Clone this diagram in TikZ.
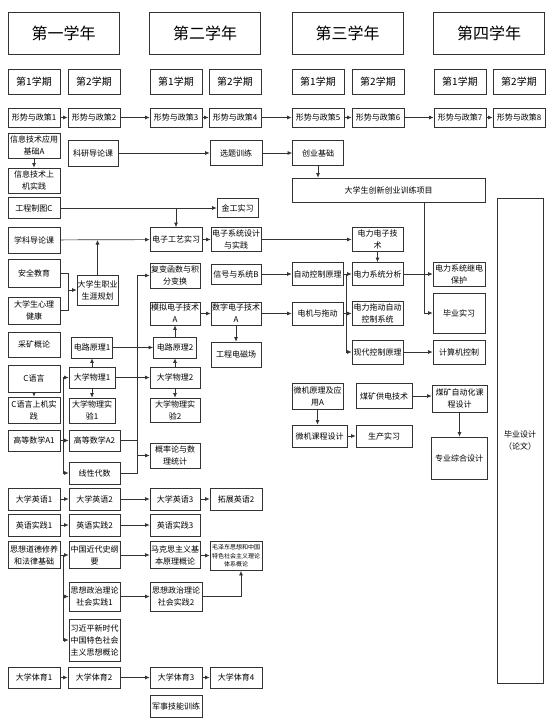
\documentclass[tikz,border=0pt]{standalone}
\usepackage{fontspec}
\usetikzlibrary{arrows.meta, positioning}
\newfontfamily\cjk{Noto Sans CJK SC}
\definecolor{LineGray}{rgb}{0.2, 0.2, 0.2}

\begin{document}
\begin{tikzpicture}[
    x=1pt, y=-1pt,
    font=\cjk\fontsize{8}{12}\selectfont,
    course/.style={draw=LineGray, line width=0.7pt, align=center,
        inner sep=0pt, text=black},
    sz/.style 2 args={minimum width=#1, minimum height=#2},
    head/.style={course, sz={111pt}{42pt}, font=\cjk\fontsize{16}{18}\selectfont},
    term/.style={course, sz={52pt}{25pt}, font=\cjk\fontsize{10}{12}\selectfont},
    link/.style={-{Latex[length=4.5pt, width=4pt]}, line width=0.7pt, LineGray},
    wire/.style={line width=0.7pt, LineGray},
]
\useasboundingbox (0,0) rectangle (553,726);

% 学年
\node[head] (year1) at (63.5,33) {第一学年};
\node[head] (year2) at (205,33) {第二学年};
\node[head] (year3) at (347.5,33) {第三学年};
\node[head] (year4) at (489,33) {第四学年};

% 学期
\node[term] (term1) at (34,81.5) {第1学期};
\node[term] (term2) at (94,81.5) {第2学期};
\node[term] (term3) at (176,81.5) {第1学期};
\node[term] (term4) at (235,81.5) {第2学期};
\node[term] (term5) at (318,81.5) {第1学期};
\node[term] (term6) at (378,81.5) {第2学期};
\node[term] (term7) at (460,81.5) {第1学期};
\node[term] (term8) at (519,81.5) {第2学期};

% 形势与政策
\node[course, sz={52pt}{19pt}] (policy1) at (34,117.5) {形势与政策1};
\node[course, sz={52pt}{19pt}] (policy2) at (94,117.5) {形势与政策2};
\node[course, sz={52pt}{19pt}] (policy3) at (176,117.5) {形势与政策3};
\node[course, sz={52pt}{19pt}] (policy4) at (235,117.5) {形势与政策4};
\node[course, sz={52pt}{19pt}] (policy5) at (318,117.5) {形势与政策5};
\node[course, sz={52pt}{19pt}] (policy6) at (378,117.5) {形势与政策6};
\node[course, sz={52pt}{19pt}] (policy7) at (460,117.5) {形势与政策7};
\node[course, sz={52pt}{19pt}] (policy8) at (519,117.5) {形势与政策8};

\draw[link] (policy1) -- (policy2);
\draw[link] (policy2) -- (policy3);
\draw[link] (policy3) -- (policy4);
\draw[link] (policy4) -- (policy5);
\draw[link] (policy5) -- (policy6);
\draw[link] (policy6) -- (policy7);
\draw[link] (policy7) -- (policy8);

% 课程
\node[course, sz={52pt}{25pt}] (infobase) at (34,145.5) {信息技术应用\\基础A};
\node[course, sz={52pt}{25pt}] (infolab) at (34,180.5) {信息技术上\\机实践};
\node[course, sz={50pt}{26pt}] (research) at (93,153) {科研导论课};
\node[course, sz={52pt}{25pt}] (topic) at (236,153) {选题训练};
\node[course, sz={51pt}{25pt}] (startup) at (318,153) {创业基础};
\node[course, sz={193pt}{24pt}] (innov) at (388.5,190) {大学生创新创业训练项目};
\node[course, sz={52pt}{21pt}] (drawing) at (34,208) {工程制图C};
\node[course, sz={41pt}{19pt}] (metal) at (237.5,208) {金工实习};
\node[course, sz={52pt}{26pt}] (intro) at (34,240) {学科导论课};
\node[course, sz={52pt}{24pt}] (craft) at (176,239.5) {电子工艺实习};
\node[course, sz={50pt}{24pt}] (esys) at (236,239.5) {电子系统设计\\与实践};
\node[course, sz={51pt}{24pt}] (powerel) at (377.5,239.5) {电力电子技\\术};
\node[course, sz={46pt}{485pt}] (thesis) at (520,440.5) {毕业设计\\（论文）};

\node[course, sz={52pt}{28pt}] (safety) at (34,273) {安全教育};
\node[course, sz={52pt}{27pt}] (psych) at (34,310.5) {大学生心理\\健康};
\node[course, sz={41pt}{30pt}] (career) at (97.5,290) {大学生职业\\生涯规划};
\node[course, sz={50pt}{25pt}] (complex) at (175,275.5) {复变函数与积\\分变换};
\node[course, sz={50pt}{20pt}] (signal) at (236,274) {信号与系统B};
\node[course, sz={51pt}{23pt}] (autoctl) at (317.5,274) {自动控制原理};
\node[course, sz={51pt}{23pt}] (psa) at (377.5,274) {电力系统分析};
\node[course, sz={52pt}{24pt}] (relay) at (459,274) {电力系统继电\\保护};
\node[course, sz={50pt}{23pt}] (analog) at (175,313.5) {模拟电子技术\\A};
\node[course, sz={50pt}{23pt}] (digital) at (236,313.5) {数字电子技术\\A};
\node[course, sz={51pt}{23pt}] (motor) at (317.5,313.5) {电机与拖动};
\node[course, sz={51pt}{24pt}] (drive) at (377.5,313.5) {电力拖动自动\\控制系统};
\node[course, sz={52pt}{40pt}] (intern) at (459,313) {毕业实习};

\node[course, sz={52pt}{25pt}] (mining) at (34,344.5) {采矿概论};
\node[course, sz={41pt}{21pt}] (circ1) at (92,347.5) {电路原理1};
\node[course, sz={43pt}{21pt}] (circ2) at (175,347.5) {电路原理2};
\node[course, sz={50pt}{25pt}] (emfield) at (236,354.5) {工程电磁场};
\node[course, sz={51pt}{24pt}] (modern) at (377.5,352) {现代控制原理};
\node[course, sz={52pt}{24pt}] (compctl) at (459,352) {计算机控制};
\node[course, sz={52pt}{27pt}] (clang) at (34,378.5) {C语言};
\node[course, sz={46pt}{21pt}] (phys1) at (92,377.5) {大学物理1};
\node[course, sz={50pt}{21pt}] (phys2) at (175,377.5) {大学物理2};
\node[course, sz={51pt}{26pt}] (micro) at (317.5,396) {微机原理及应\\用A};
\node[course, sz={56pt}{25pt}] (coalsup) at (384,396) {煤矿供电技术};
\node[course, sz={55pt}{27pt}] (coalauto) at (459.5,398.5) {煤矿自动化课\\程设计};
\node[course, sz={52pt}{26pt}] (clab) at (34,410) {C语言上机实\\践};
\node[course, sz={46pt}{25pt}] (physlab1) at (92,410.5) {大学物理实\\验1};
\node[course, sz={50pt}{24pt}] (physlab2) at (175,410) {大学物理实\\验2};
\node[course, sz={55pt}{22pt}] (microdes) at (319.5,436) {微机课程设计};
\node[course, sz={56pt}{22pt}] (prod) at (384,436) {生产实习};
\node[course, sz={56pt}{42pt}] (synth) at (459,458) {专业综合设计};

\node[course, sz={52pt}{21pt}] (math1) at (34,440.5) {高等数学A1};
\node[course, sz={51pt}{21pt}] (math2) at (94.5,440.5) {高等数学A2};
\node[course, sz={51pt}{22pt}] (linalg) at (94.5,473) {线性代数};
\node[course, sz={50pt}{25pt}] (prob) at (175,455.5) {概率论与数\\理统计};

\node[course, sz={52pt}{22pt}] (eng1) at (34,499) {大学英语1};
\node[course, sz={51pt}{22pt}] (eng2) at (94.5,499) {大学英语2};
\node[course, sz={50pt}{22pt}] (eng3) at (175,499) {大学英语3};
\node[course, sz={52pt}{22pt}] (engx) at (236,499) {拓展英语2};
\node[course, sz={52pt}{22pt}] (prac1) at (34,525) {英语实践1};
\node[course, sz={51pt}{22pt}] (prac2) at (94.5,525) {英语实践2};
\node[course, sz={50pt}{22pt}] (prac3) at (175,525) {英语实践3};

\node[course, sz={52pt}{27pt}] (moral) at (34,555) {思想道德修养\\和法律基础};
\node[course, sz={51pt}{27pt}] (history) at (94.5,555) {中国近代史纲\\要};
\node[course, sz={50pt}{27pt}] (marx) at (175,555) {马克思主义基\\本原理概论};
\node[course, sz={52pt}{29pt}, font=\cjk\fontsize{6}{8.5}\selectfont] (mao) at (236,556)
    {毛泽东思想和中国\\特色社会主义理论\\体系概论};
\node[course, sz={51pt}{29pt}] (pol1) at (94.5,596.5) {思想政治理论\\社会实践1};
\node[course, sz={52pt}{29pt}] (pol2) at (176,596.5) {思想政治理论\\社会实践2};
\node[course, sz={51pt}{42pt}] (xi) at (94.5,640) {习近平新时代\\中国特色社会\\主义思想概论};

\node[course, sz={52pt}{21pt}] (pe1) at (34,677.5) {大学体育1};
\node[course, sz={52pt}{21pt}] (pe2) at (94,677.5) {大学体育2};
\node[course, sz={52pt}{21pt}] (pe3) at (176,677.5) {大学体育3};
\node[course, sz={52pt}{21pt}] (pe4) at (236,677.5) {大学体育4};
\node[course, sz={52pt}{22pt}] (military) at (176,706) {军事技能训练};

% 汇合点
\coordinate (join) at ([xshift=8pt]safety.east |- career.west);
\coordinate (ctlbus) at ([xshift=3pt]autoctl.east);
\coordinate (gradbus) at ([xshift=-8pt]relay.west |- innov.south);
\coordinate (mathbus) at ([xshift=17pt]math2.east);
\coordinate (calcbus) at ([xshift=3pt]math1.east);
\coordinate (polbus) at ([xshift=3pt]moral.east);

% 先修关系
\draw[link] (infobase) -- (infolab);
\draw[link] (research) -- (topic);
\draw[link] (topic) -- (startup);
\draw[link] (startup) -- (startup |- innov.north);
\draw[link] (drawing) -- (metal);
\draw[link] (drawing.east -| craft) -- (craft);
\draw[link] (intro) -- (craft);
\draw[link] (career) -- (career |- intro.east);
\draw[wire] (safety.east) -| (join);
\draw[wire] (psych.east) -| (join);
\draw[link] (join) -- (career);
\draw[link] (craft) -- (esys);
\draw[link] (esys) -- (powerel);
\draw[link] (powerel) -- (psa);
\draw[link] (signal) -- (autoctl);
\draw[link] (autoctl) -- (psa);
\draw[link] (ctlbus) |- (modern);
\draw[link] (motor) -- (drive);
\draw[link] (psa) -- (relay);
\draw[link] (gradbus) |- (intern);
\draw[link] (modern) -- (compctl);

\draw[link] (math1) -- (math2);
\draw[link] (calcbus) |- (phys1);
\draw[link] (calcbus) |- (linalg);
\draw[wire] (math2) -- (mathbus);
\draw[wire] (linalg.east) -| (mathbus);
\draw[link] (mathbus) |- (complex);
\draw[link] (mathbus) |- (prob);
\draw[link] (phys1) -- (circ1);
\draw[link] (phys1) -- (physlab1);
\draw[link] (phys1) -- (phys2);
\draw[link] (phys2) -- (circ2);
\draw[link] (phys2) -- (physlab2);
\draw[link] (circ1) -- (circ2);
\draw[link] (circ2) -- (analog);
\draw[link] (analog) -- (digital);
\draw[link] (digital) -- (motor);
\draw[link] (digital) -- (emfield);
\draw[link] (clang) -- (clab);
\draw[link] (micro) -- (micro |- microdes.north);
\draw[link] (microdes) -- (prod);
\draw[link] (coalsup.east) -- (coalsup.east -| coalauto.west);
\draw[link] (coalauto) -- (coalauto |- synth.north);

\draw[link] (eng1) -- (eng2);
\draw[link] (eng2) -- (eng3);
\draw[link] (eng3) -- (engx);
\draw[link] (prac1) -- (prac2);
\draw[link] (prac2) -- (prac3);

\draw[link] (moral) -- (history);
\draw[link] (polbus) |- (pol1);
\draw[link] (polbus) |- (xi);
\draw[link] (history) -- (marx);
\draw[link] (marx) -- (mao);
\draw[link] (pol1) -- (pol2);
\draw[link] (pol2.east) -| ([xshift=5pt]mao.south);

\draw[link] (pe1) -- (pe2);
\draw[link] (pe2) -- (pe3);
\draw[link] (pe3) -- (pe4);

\end{tikzpicture}
\end{document}
